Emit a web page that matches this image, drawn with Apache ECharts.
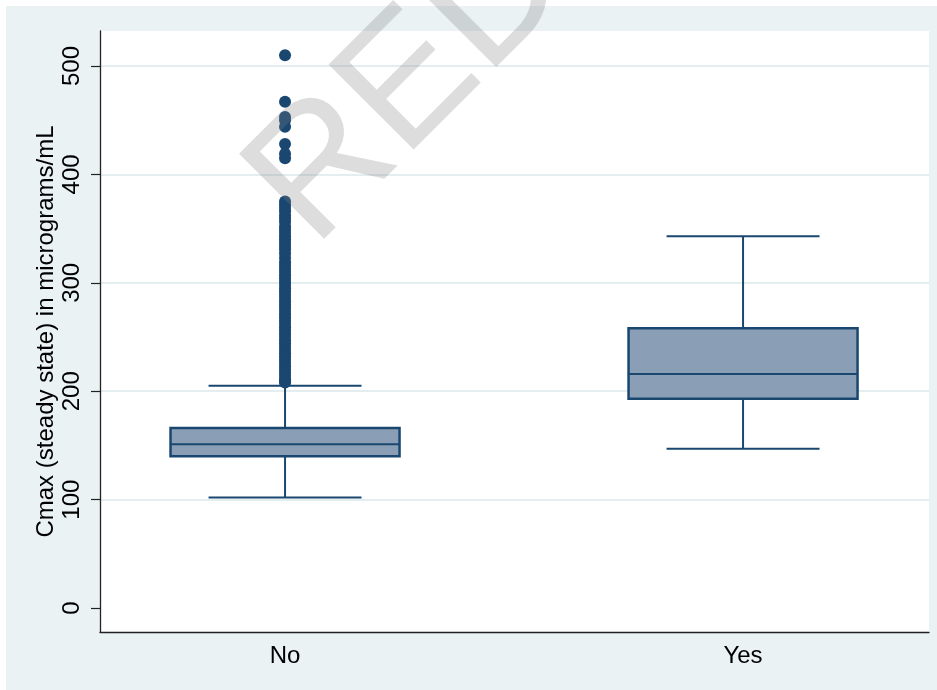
<!DOCTYPE html>
<html>
<head>
<meta charset="utf-8">
<title>Cmax by group</title>
<script src="https://cdn.jsdelivr.net/npm/echarts@6/dist/echarts.min.js"></script>
<style>
  html, body { margin: 0; padding: 0; background: #ffffff; }
  #chart { width: 937px; height: 690px; }
</style>
</head>
<body>
<div id="chart"></div>
<script>
// Groups on the x axis
const categories = ['No', 'Yes'];

// Five-number summaries per group (whisker low, Q1, median, Q3, whisker high)
const whiskerLow = [102, 147];
const quartile1 = [140, 193];
const medians   = [151, 216];
const quartile3 = [166, 258];
const whiskerHigh = [205, 343];

// Outside values for the "No" group
const outliersNo = [
  510, 467, 453, 450, 444, 428, 419, 415,
  375, 372, 369, 366, 362, 359, 356, 352, 349, 346, 343, 340, 337, 334,
  331, 327, 323, 319, 316, 313, 310, 307, 304, 301, 298, 295, 292, 289, 286,
  283, 280, 277, 274, 271, 268, 265, 262, 259, 256, 253, 250, 247, 244,
  241, 238, 235, 232, 229, 226, 223, 220, 217, 214, 211, 209, 208
];

// Y axis tick values
const yTicks = [0, 100, 200, 300, 400, 500];

const FONT = '"Liberation Sans", Arial, Helvetica, sans-serif';
const NAVY = '#1a476f';
const BOX_FILL = '#8a9fb5';
const BOX_WIDTH = 0.5;   // in x-axis units
const CAP_WIDTH = 0.334; // in x-axis units

const positions = categories.map((_, i) => i + 1);
const boxData = categories.map((_, i) => [
  positions[i], whiskerLow[i], quartile1[i], medians[i], quartile3[i], whiskerHigh[i]
]);
const outlierData = outliersNo.map(v => [positions[0], v]);

const chart = echarts.init(document.getElementById('chart'), null, { renderer: 'canvas' });

function renderBox(params, api) {
  const x = api.value(0);
  const pt = v => api.coord([x, v]);
  const lo = pt(api.value(1));
  const q1 = pt(api.value(2));
  const md = pt(api.value(3));
  const q3 = pt(api.value(4));
  const hi = pt(api.value(5));
  const half = api.size([BOX_WIDTH, 0])[0] / 2;
  const capHalf = api.size([CAP_WIDTH, 0])[0] / 2;
  const line = { stroke: NAVY, lineWidth: 2, fill: null };
  return {
    type: 'group',
    children: [
      { type: 'line', shape: { x1: lo[0], y1: lo[1], x2: q1[0], y2: q1[1] }, style: line },
      { type: 'line', shape: { x1: q3[0], y1: q3[1], x2: hi[0], y2: hi[1] }, style: line },
      { type: 'line', shape: { x1: lo[0] - capHalf, y1: lo[1], x2: lo[0] + capHalf, y2: lo[1] }, style: line },
      { type: 'line', shape: { x1: hi[0] - capHalf, y1: hi[1], x2: hi[0] + capHalf, y2: hi[1] }, style: line },
      { type: 'rect', shape: { x: q3[0] - half, y: q3[1], width: half * 2, height: q1[1] - q3[1] },
        style: { fill: BOX_FILL, stroke: NAVY, lineWidth: 2.5 } },
      { type: 'line', shape: { x1: md[0] - half, y1: md[1], x2: md[0] + half, y2: md[1] }, style: line }
    ]
  };
}

const option = {
  backgroundColor: '#ffffff',
  animation: false,
  graphic: [
    {
      type: 'rect', z: -10, silent: true,
      shape: { x: 6, y: 6, width: 931, height: 684 },
      style: { fill: '#eaf2f3' }
    },
    {
      type: 'text', z: 100, silent: true,
      x: 280, y: 215, rotation: Math.PI / 4,
      style: {
        text: 'RED', fontSize: 175, fontFamily: FONT,
        fill: 'rgba(128,128,128,0.27)', align: 'left', verticalAlign: 'middle'
      }
    }
  ],
  grid: {
    left: 100, right: 8, top: 31, bottom: 58,
    show: true, backgroundColor: '#ffffff', borderWidth: 0
  },
  xAxis: {
    type: 'value',
    min: 0.596, max: 2.406,
    axisLine: { show: true, onZero: false, lineStyle: { color: '#222', width: 1.3 } },
    axisTick: { show: false },
    splitLine: { show: false },
    axisLabel: {
      customValues: positions,
      formatter: v => categories[Math.round(v) - 1] || '',
      color: '#000', fontSize: 24, fontFamily: FONT, margin: 12
    }
  },
  yAxis: {
    type: 'value',
    min: -22.1, max: 532.3,
    name: 'Cmax (steady state) in micrograms/mL',
    nameLocation: 'middle',
    nameGap: 42,
    nameMoveOverlap: false,
    nameTextStyle: { color: '#000', fontSize: 24, fontFamily: FONT },
    axisLine: { show: true, onZero: false, lineStyle: { color: '#222', width: 1.3 } },
    axisTick: {
      show: true, length: 9, customValues: yTicks,
      lineStyle: { color: '#222', width: 1.2 }
    },
    axisLabel: {
      customValues: yTicks, rotate: 90, margin: 16,
      color: '#000', fontSize: 24, fontFamily: FONT
    },
    splitLine: {
      show: true,
      lineStyle: {
        color: ['rgba(0,0,0,0)', '#e4eef0', '#e4eef0', '#e4eef0', '#e4eef0', '#e4eef0'],
        width: 1.8
      }
    }
  },
  series: [
    {
      type: 'custom',
      name: 'box',
      z: 2,
      renderItem: renderBox,
      encode: { x: 0, y: [1, 2, 3, 4, 5] },
      data: boxData
    },
    {
      type: 'scatter',
      name: 'outside values',
      z: 3,
      symbol: 'circle',
      symbolSize: 12,
      itemStyle: { color: NAVY, opacity: 1 },
      data: outlierData
    }
  ]
};

chart.setOption(option);
</script>
</body>
</html>
